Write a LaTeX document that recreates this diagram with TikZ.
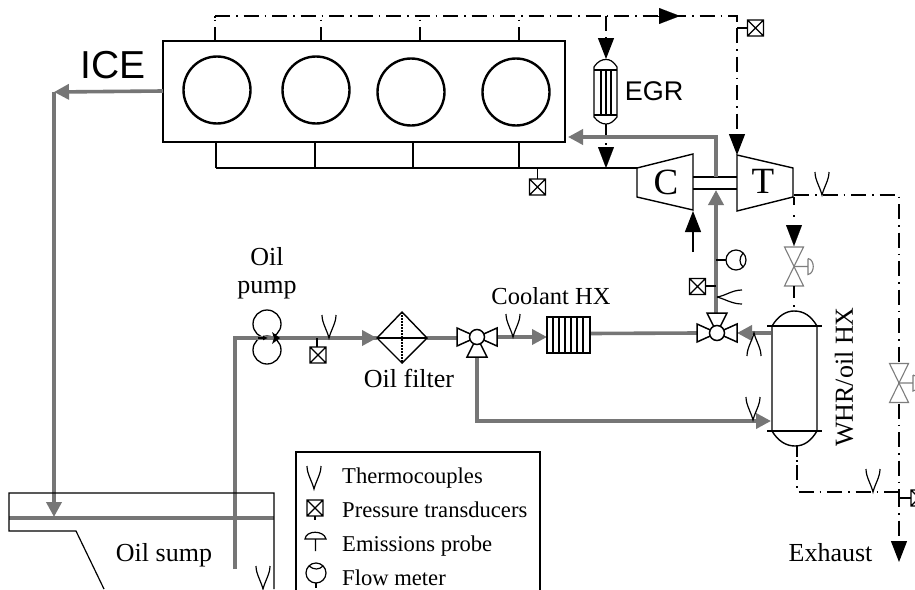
\documentclass[tikz,border=0pt]{standalone}
\usepackage{fontspec}
\setmainfont{Liberation Serif}
\newfontfamily\arialf{Liberation Sans}
\usetikzlibrary{arrows.meta}
\definecolor{oilgray}{RGB}{118,118,118}
\definecolor{lightv}{RGB}{125,125,125}
\tikzset{
  x=1pt,y=-1pt,
  thin1/.style={line width=1.2pt,black},
  dd/.style={line width=1.2pt,black,dash pattern=on 15pt off 6pt on 1.5pt off 6pt},
  oil/.style={line width=3.6pt,oilgray},
  oilhead/.style={-{Triangle[width=15pt,length=15pt]}},
  blackhead/.style={-{Triangle[width=16pt,length=21pt]}},
  lbl/.style={font=\fontsize{26}{28}\selectfont,inner sep=0pt},
  leg/.style={font=\fontsize{22.6}{24}\selectfont,inner sep=0pt,anchor=base west},
  cyl/.style={circle,draw,line width=2.4pt,minimum size=67pt,inner sep=0pt},
  thermo/.pic={\draw[thin1] (-7,-23) .. controls (-7,-15) and (-2,-8) .. (0,0) .. controls (2,-8) and (7,-15) .. (7,-23);},
  ptrans/.pic={\draw[thin1] (-8,-8) rectangle (8,8) (-8,-8)--(8,8) (-8,8)--(8,-8);},
  flowm/.pic={\draw[thin1] (0,0) circle (10);\draw[thin1] (7,-7) .. controls (3,-2) and (3,3) .. (7,7);},
  valvethree/.pic={
    \draw[line width=1.5pt,fill=white] (-20,-9)--(-20,9)--(0,0)--cycle;
    \draw[line width=1.5pt,fill=white] (20,-9)--(20,9)--(0,0)--cycle;
    \draw[line width=1.5pt,fill=white] (-10,-20)--(10,-20)--(0,0)--cycle;
    \draw[line width=1.5pt,fill=white] (0,0) circle (7.5);},
  valvetwo/.pic={
    \draw[line width=1.1pt,lightv,fill=white] (-9.5,-19.5)--(9.5,-19.5)--(-9.5,19.5)--(9.5,19.5)--cycle;
    \draw[line width=1.1pt,lightv] (0,0)--(14,0) (14,-8)--(14,8) .. controls (21,7) and (21,-7) .. (14,-8);},
}
\begin{document}
\begin{tikzpicture}
\useasboundingbox (0,0) rectangle (915,589);
\clip (0,0) rectangle (915,589);
\fill[white] (0,0) rectangle (915,589);

% engine
\node[draw,line width=2.8pt,minimum width=402pt,minimum height=101pt,inner sep=0pt] (ice) at (364,91.5) {};
\node[cyl] (c1) at (217,90) {};
\node[cyl] (c2) at (316,90) {};
\node[cyl] (c3) at (411,92) {};
\node[cyl] (c4) at (516,92) {};
\node[font=\arialf\fontsize{39}{40}\selectfont,inner sep=0pt] (icel) at (113,65) {ICE};
\node[font=\arialf\fontsize{27}{28}\selectfont,inner sep=0pt] (egrl) at (654,91) {EGR};

% named points
\foreach \n/\x/\y in {tl/215/16,tj/606/16,tr/737/16,ta/658/16,tb/680/16,
  u1/215/41,u1m/215/27,u2/321/41,u2m/321/27,u3/420/41,u3m/420/27,u4/519/41,u4m/519/27,
  l1/216/168,l2/315/168,l3/413/168,l4/519/168,lc/637/168,
  d1/216/142,d2/315/142,d3/413/142,d4/519/142,
  pm/537.5/168,pmb/537.5/179,
  egrin/606/59,egrout/606/124,egrm/606/168,
  ptop/737/28,ptopb/747/28,tin/737/155,
  tout/794/195,texh/899/195,vin/794/246,vout/794/286,wtop/794/311,
  wbot/797/446,wb/797/492,wr/899/492,exh/899/562,pbot/899/498,pbotb/911/498,
  air0/693/252,air1/693/211,
  oa/716/177,ob/716/137,oc/568/137,od/716/314,oe/716/190,
  ofm/716/260,ofmb/726/260,opt/716/286,optb/706/286,
  hxo/590/333.5,vl/697/333,
  ie/163/91,il/54/92,sump/54/517,
  ps/235/569,pc/235/338,flt/377/338,flo/427/338,v2l/458/338,v2r/497/337,hxi/547/337,
  v2b/477/356,lc2/477/421,whi/771/421,whoa/771/333,v1r/737/333,
  pt2/317/338,pt2b/317/347}{\coordinate (\n) at (\x,\y);}

% dash-dot exhaust lines
\draw[dd] (tl)--(tr)--(ptop);
\draw[thin1] (215,16)--(215,17.5) (215,19.5)--(215,21) (321,19.5)--(321,21) (420,19.5)--(420,21) (519,19.5)--(519,21);
\draw[thin1] (u1)--(u1m) (u2)--(u2m) (u3)--(u3m) (u4)--(u4m);
\draw[thin1] (ptop)--(ptopb);
\pic (ptA) at (755.5,28) {ptrans};
\draw[black,blackhead,line width=0.1pt] (ta)--(tb);
\draw[dd,blackhead] (tj)--(egrin);
\draw[dd,blackhead] (ptop)--(tin);

% EGR cooler
\draw[thin1,fill=white] (594,67) .. controls (598,61) and (602,59.5) .. (606,59.5) .. controls (610,59.5) and (613,61) .. (617,67) -- (617,117) .. controls (613,122) and (610,124) .. (606,124) .. controls (602,124) and (598,122) .. (594,117) -- cycle;
\draw[thin1] (594,70)--(617,70) (594,115)--(617,115) (601,70)--(601,115) (606,70)--(606,115) (611,70)--(611,115);
\draw[thin1] (egrout)--(606,137) (606,143)--(606,145);
\draw[black,blackhead,line width=0.1pt] (606,147)--(egrm);

% intake manifold
\draw[thin1] (l1)--(lc) (l1)--(d1) (l2)--(d2) (l3)--(d3) (l4)--(d4) (pm)--(pmb);
\pic (ptB) at (537.5,187) {ptrans};

% turbocharger
\draw[line width=1.4pt] (637,168)--(693,154)--(693,210)--(637,197)--cycle;
\draw[line width=1.4pt] (737,155)--(793,168)--(793,197)--(737,211)--cycle;
\draw[line width=1.4pt] (693,177)--(737,177) (693,189)--(737,189);
\node[font=\fontsize{37}{38}\selectfont,inner sep=0pt] (cl) at (666,182) {C};
\node[font=\fontsize{37}{38}\selectfont,inner sep=0pt] (tl2) at (763,181) {T};
\draw[line width=1.2pt,blackhead] (air0)--(air1);

% exhaust right
\draw[dd] (tout)--(texh)--(wr);
\draw[dd,blackhead] (wr)--(exh);
\pic (thA) at (822,195) {thermo};
\draw[thin1] (794,197)--(794,205) (794,215)--(794,217);
\draw[black,blackhead,line width=0.1pt] (794,225)--(vin);
\pic (vA) at (794,266.5) {valvetwo};
\draw[thin1] (vout)--(794,298) (794,305)--(794,307);
\pic (vB) at (899,383) {valvetwo};
\draw[thin1] (wbot)--(797,457) (797,460)--(797,462);
\draw[dd] (797,465)--(wb)--(wr);
\pic (thB) at (873,492) {thermo};
\draw[thin1] (pbot)--(pbotb);
\pic (ptC) at (919,498) {ptrans};

% oil circuit
\draw[oil,oilhead] (oa)--(ob)--(oc);
\draw[oil,oilhead] (od)--(oe);
\draw[oil,oilhead] (ie)--(il);
\draw[oil,oilhead] (il)--(sump);
\draw[oil] (9,518)--(274,518);
\draw[oil,oilhead] (ps)--(pc)--(flt);
\draw[oil] (flo)--(v2l);
\draw[oil,oilhead] (v2r)--(hxi);
\draw[oil] (hxo)--(vl);
\draw[oil,oilhead] (v2b)--(lc2)--(whi);
\draw[oil,oilhead] (whoa)--(v1r);

% flow meter and sensors on oil return
\draw[thin1] (ofm)--(ofmb) (opt)--(optb);
\pic (fmA) at (736,260) {flowm};
\pic (ptD) at (697.5,286.5) {ptrans};
\draw[thin1] (717,297) .. controls (725,296) and (732,290) .. (742,290);
\draw[thin1] (717,297) .. controls (725,299) and (732,304) .. (742,304);
\pic (v3a) at (717,333) {valvethree};
\pic[rotate=180] (thC) at (754,333) {thermo};
\pic (thD) at (753,420) {thermo};

% WHR / oil HX
\draw[line width=1.4pt] (772,326) .. controls (778,316) and (786,311) .. (794,311) .. controls (804,311) and (811,316) .. (817,326) -- (817,431) .. controls (811,441) and (804,446) .. (795,446) .. controls (786,446) and (778,441) .. (772,431) -- cycle;
\draw[line width=1.4pt] (767,326)--(822,326) (767,431)--(822,431);
\node[lbl,rotate=90] (whr) at (844,377) {WHR/oil HX};
\node[lbl] (exl) at (830.5,553) {Exhaust};

% pump, filter, valve, coolant HX
\node[circle,draw,line width=1.3pt,minimum size=28pt,inner sep=0pt] (p1) at (267,324) {};
\node[circle,draw,line width=1.3pt,minimum size=28pt,inner sep=0pt] (p2) at (267,350) {};
\draw[oil] (pc)--(268,338);
\draw[oil] (268,338)--(flt);
\fill (280,338)--(272,332)--(274,338)--(272,344)--cycle;
\draw[black,line width=1.2pt,-{Latex[length=5pt,width=5pt]}] (258,338)--(268,338);
\node[lbl] (oil1) at (267,257) {Oil};
\node[lbl] (oil2) at (267,290) {pump};
\pic (thE) at (329,338) {thermo};
\draw[thin1] (pt2)--(pt2b);
\pic (ptE) at (318,355) {ptrans};
\draw[line width=1.4pt] (377,338)--(402,312)--(427,338)--(402,363)--cycle;
\draw[thin1] (377,338)--(427,338);
\draw[line width=1.2pt,dash pattern=on 1.6pt off 1.4pt] (402,312)--(402,363);
\node[lbl] (flbl) at (409,378) {Oil filter};
\pic[rotate=180] (v3b) at (477,337) {valvethree};
\pic (thF) at (513,337) {thermo};
\draw[line width=1.2pt,fill=white] (547,317) rectangle (590,353);
\draw[thin1] (553,317)--(553,353) (559,317)--(559,353) (565,317)--(565,353) (571,317)--(571,353) (577,317)--(577,353) (583,317)--(583,353);
\node[font=\fontsize{24.5}{26}\selectfont,inner sep=0pt] (hxl) at (551,296) {Coolant HX};

% oil sump
\draw[line width=1.2pt] (274,589)--(274,493)--(9,493)--(9,531)--(76,531)--(104,589);
\node[lbl] (sl) at (164,555) {Oil sump};
\pic (thG) at (263,589) {thermo};

% legend
\draw[line width=2.4pt,fill=white] (296,452) rectangle (540,600);
\pic (lgA) at (314,489) {thermo};
\pic (lgB) at (315,508) {ptrans};
\draw[thin1] (315,516)--(315,520);
\draw[thin1] (305,539) .. controls (306,530) and (324,530) .. (326,539) -- cycle (315.5,539)--(315.5,551);
\pic[rotate=90] (lgD) at (316,573) {flowm};
\draw[thin1] (316,583)--(316,588);
\node[leg] (ltA) at (342,483) {Thermocouples};
\node[leg] (ltB) at (342,517) {Pressure transducers};
\node[leg] (ltC) at (342,551) {Emissions probe};
\node[leg] (ltD) at (342,585) {Flow meter};
\end{tikzpicture}
\end{document}
